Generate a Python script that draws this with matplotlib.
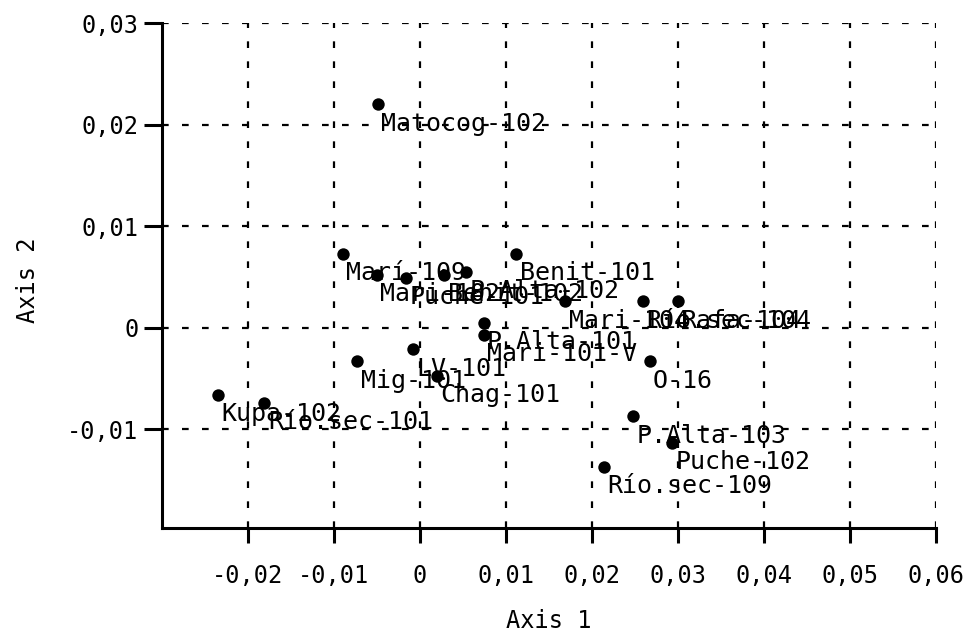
import matplotlib
matplotlib.use('Agg')
import matplotlib.pyplot as plt

# ---- data ----
labels = ['Matocog-102', 'Marí-109', 'Benit-101', 'Mari-102', 'Puche-101',
          'Benit-102', 'P.Alta-102', 'Mari-104', 'Río.sec-104', 'Rafa-104',
          'P.Alta-101', 'Mari-101-V', 'LV-101', 'Mig-101', 'Chag-101',
          'O-16', 'Kupa-102', 'Río.sec-101', 'P.Alta-103', 'Puche-102',
          'Río.sec-109']
axis1 = [-0.0049, -0.0090, 0.0112, -0.0050, -0.0016,
         0.0028, 0.0054, 0.0169, 0.0259, 0.0300,
         0.0074, 0.0074, -0.0008, -0.0073, 0.0020,
         0.0267, -0.0235, -0.0181, 0.0248, 0.0293,
         0.0214]
axis2 = [0.0220, 0.0073, 0.0073, 0.0052, 0.0049,
         0.0052, 0.0055, 0.0026, 0.0026, 0.0026,
         0.0005, -0.0007, -0.0021, -0.0033, -0.0047,
         -0.0033, -0.0066, -0.0074, -0.0087, -0.0113,
         -0.0137]
xticks = [-0.02, -0.01, 0.0, 0.01, 0.02, 0.03, 0.04, 0.05, 0.06]
xticklabels = ['-0,02', '-0,01', '0', '0,01', '0,02', '0,03', '0,04', '0,05', '0,06']
yticks = [-0.01, 0.0, 0.01, 0.02, 0.03]
yticklabels = ['-0,01', '0', '0,01', '0,02', '0,03']

plt.rcParams['font.family'] = ['DejaVu Sans Mono', 'DejaVu Sans']
FS = 17
FS_PT = 18
fig = plt.figure(figsize=(9.72, 6.31), dpi=100)
W, H = 972, 631
ax = fig.add_axes([162 / W, 1 - 528 / H, (936 - 162) / W, (528 - 23) / H])
ax.set_xlim(-0.03, 0.06)
ax.set_ylim(-0.0197, 0.03)

ax.set_xticks(xticks)
ax.set_xticklabels(xticklabels)
ax.set_yticks(yticks)
ax.set_yticklabels(yticklabels)

for s in ['top', 'right']:
    ax.spines[s].set_visible(False)
for s in ['left', 'bottom']:
    ax.spines[s].set_linewidth(2.2)
    ax.spines[s].set_color('black')

ax.grid(True, color='black', linestyle=(0, (3, 6)), linewidth=1.6, zorder=1)
ax.set_axisbelow(True)
ax.tick_params(axis='x', length=11, width=2.2, pad=15, labelsize=FS, direction='out')
ax.tick_params(axis='y', length=13, width=2.2, pad=4, labelsize=FS, direction='out')

ax.scatter(axis1, axis2, s=80, c='black', zorder=3, linewidths=0)
for lab, xi, yi in zip(labels, axis1, axis2):
    ax.annotate(lab, (xi, yi), xytext=(2.5, -19), textcoords='offset points',
                ha='left', va='baseline', fontsize=FS_PT, color='black', zorder=4)

ax.set_xlabel('Axis 1', fontsize=FS)
ax.set_ylabel('Axis 2', fontsize=FS)
ax.xaxis.set_label_coords(0.5, -0.16)
ax.yaxis.set_label_coords(-0.158, 0.49)

fig.savefig('out.png', dpi=100)
